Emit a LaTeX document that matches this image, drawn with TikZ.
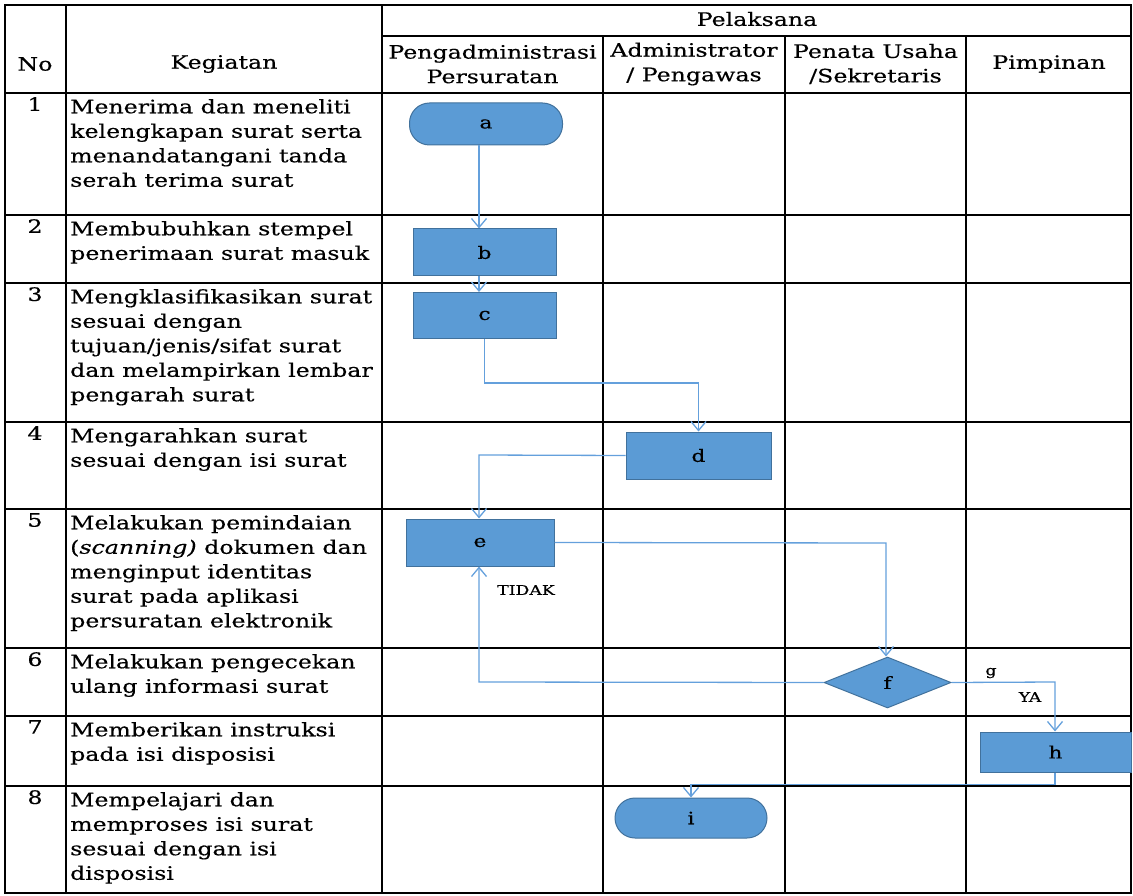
\documentclass[tikz,border=0pt]{standalone}
\usepackage{fontspec}
\setmainfont{DejaVu Serif}[FakeStretch=1.28,FakeBold=0.4]
\usetikzlibrary{arrows.meta,shapes.geometric}
\definecolor{boxfill}{RGB}{91,155,213}
\definecolor{boxline}{RGB}{65,113,156}
\definecolor{conn}{RGB}{100,160,220}
\tikzset{
  grid/.style={line width=1.8pt,black},
  celltext/.style={anchor=north west,inner sep=0pt,align=left,font=\fontsize{18.5}{24.5}\selectfont},
  numtext/.style={anchor=north,inner sep=0pt,font=\fontsize{18.5}{24.5}\selectfont},
  headtext/.style={inner sep=0pt,align=center,font=\fontsize{18.5}{24.5}\selectfont},
  procbox/.style={draw=boxline,line width=1pt,fill=boxfill,inner sep=0pt,font=\fontsize{17}{18}\selectfont},
  termbox/.style={procbox,rounded corners=20pt},
  decbox/.style={procbox,diamond,aspect=2.5,minimum width=127pt,minimum height=51pt},
  flow/.style={draw=conn,line width=1.3pt},
  arr/.style={flow,-{Straight Barb[length=9pt,width=15pt]}},
  lbl/.style={inner sep=0pt,font=\fontsize{13.5}{14}\selectfont}
}
\begin{document}
\begin{tikzpicture}[x=1pt,y=-1pt]
\useasboundingbox (0,0) rectangle (1133,896);
% grid
\draw[grid] (5,5) rectangle (1131,893);
\draw[grid] (66,5) -- (66,893);
\draw[grid] (382,5) -- (382,893);
\foreach \xx in {603,785,966} \draw[grid] (\xx,36) -- (\xx,893);
\draw[grid] (382,36) -- (1131,36);
\foreach \yy in {93,215,283,422,509,648,716,786} \draw[grid] (5,\yy) -- (1131,\yy);
% headers
\node[headtext] (hpel) at (757,19) {Pelaksana};
\node[headtext] (hno) at (35,64) {No};
\node[headtext] (hkeg) at (224,64) {Kegiatan};
\node[headtext] (hpp) at (492.5,64) {Pengadministrasi\\Persuratan};
\node[headtext] (hap) at (694,64) {Administrator\\/ Pengawas};
\node[headtext] (hps) at (875.5,64) {Penata Usaha\\/Sekretaris};
\node[headtext] (hpim) at (1049,64) {Pimpinan};
% numbers
\node[numtext] (n1) at (35,97) {1};
\node[numtext] (n2) at (35,219) {2};
\node[numtext] (n3) at (35,287) {3};
\node[numtext] (n4) at (35,426) {4};
\node[numtext] (n5) at (35,513) {5};
\node[numtext] (n6) at (35,652) {6};
\node[numtext] (n7) at (35,720) {7};
\node[numtext] (n8) at (35,790) {8};
% activities
\node[celltext] (k1) at (70,99) {Menerima dan meneliti\\kelengkapan surat serta\\menandatangani tanda\\serah terima surat};
\node[celltext] (k2) at (70,221) {Membubuhkan stempel\\penerimaan surat masuk};
\node[celltext] (k3) at (70,289) {Mengklasifikasikan surat\\sesuai dengan\\tujuan/jenis/sifat surat\\dan melampirkan lembar\\pengarah surat};
\node[celltext] (k4) at (70,428) {Mengarahkan surat\\sesuai dengan isi surat};
\node[celltext] (k5) at (70,515) {Melakukan pemindaian\\(\textit{scanning)} dokumen dan\\menginput identitas\\surat pada aplikasi\\persuratan elektronik};
\node[celltext] (k6) at (70,654) {Melakukan pengecekan\\ulang informasi surat};
\node[celltext] (k7) at (70,722) {Memberikan instruksi\\pada isi disposisi};
\node[celltext] (k8) at (70,792) {Mempelajari dan\\memproses isi surat\\sesuai dengan isi\\disposisi};
% flow shapes
\node[termbox,minimum width=153pt,minimum height=42pt] (a) at (486,124) {a};
\node[procbox,minimum width=143pt,minimum height=47pt] (b) at (484.5,252.5) {b};
\node[procbox,minimum width=143pt,minimum height=46pt] (c) at (484.5,315.5) {c};
\node[procbox,minimum width=145pt,minimum height=47pt] (d) at (698.5,455.5) {d};
\node[procbox,minimum width=148pt,minimum height=47pt] (e) at (480,542.5) {e};
\node[decbox] (f) at (887.5,682.5) {f};
\node[procbox,minimum width=151pt,minimum height=40pt] (h) at (1055.5,752) {h};
\node[termbox,minimum width=152pt,minimum height=40pt] (i) at (691,818) {i};
% labels
\node[lbl] (tidak) at (526,590) {TIDAK};
\node[lbl] (g) at (991,673) {g};
\node[lbl] (ya) at (1030,697) {YA};
% connectors
\coordinate (cb) at (484,383);
\coordinate (dl) at (479,455);
\coordinate (er) at (886,543);
\coordinate (fl) at (479,682);
\coordinate (fr) at (1055,682);
\coordinate (hb) at (1055,784.5);
\coordinate (ib) at (691,784.5);
\draw[arr] ([xshift=-7pt]a.south) -- ([xshift=-7pt]a.south |- b.north);
\draw[arr] ([xshift=-5.5pt]b.south) -- ([xshift=-5.5pt]b.south |- c.north);
\draw[arr] (c.south) |- (cb) -| (d.north);
\draw[arr] (d.west) -- (dl) -- (dl |- e.north);
\draw[arr] (e.east) -- (er) -- (er |- f.north);
\draw[arr] (f.west) -- (fl) -- (fl |- e.south);
\draw[arr] (f.east) -- (fr) -- (fr |- h.north);
\draw[arr] (hb |- h.south) -- (hb) -- (ib) -- (i.north);
\end{tikzpicture}
\end{document}
